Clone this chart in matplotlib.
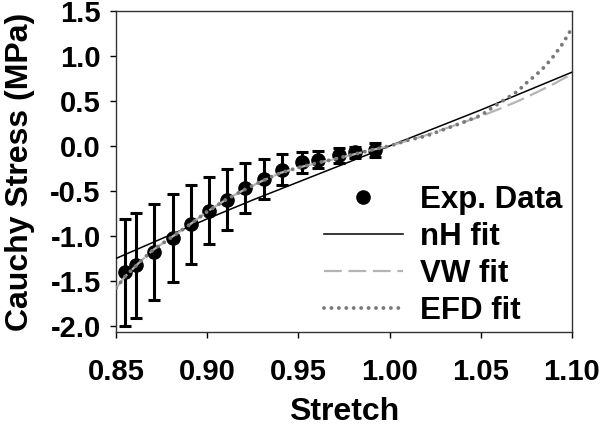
import matplotlib
matplotlib.use('Agg')
import matplotlib.pyplot as plt

plt.rcParams['font.family'] = ['Liberation Sans', 'DejaVu Sans']
plt.rcParams['font.weight'] = 'bold'

# experimental data (mean +/- sd)
stretch = [0.855, 0.861, 0.871, 0.881, 0.891, 0.901, 0.911, 0.921,
           0.931, 0.941, 0.952, 0.961, 0.972, 0.981, 0.992]
stress = [-1.405, -1.325, -1.175, -1.02, -0.87, -0.72, -0.595, -0.47,
          -0.367, -0.262, -0.18, -0.152, -0.105, -0.072, -0.045]
stress_err = [0.595, 0.585, 0.535, 0.49, 0.44, 0.37, 0.335, 0.28,
              0.218, 0.17, 0.117, 0.096, 0.085, 0.065, 0.075]

# fitted curves
nh_x = [0.85, 0.875, 0.90, 0.925, 0.95, 0.975, 1.00, 1.025, 1.05, 1.075, 1.10]
nh_y = [-1.25, -1.03, -0.81, -0.60, -0.40, -0.20, 0.0, 0.20, 0.40, 0.61, 0.82]

vw_x = [0.85, 0.855, 0.8625, 0.87, 0.88, 0.89, 0.90, 0.91, 0.92, 0.93, 0.94,
        0.95, 0.96, 0.97, 0.98, 0.99, 1.00, 1.01, 1.02, 1.03, 1.04, 1.05,
        1.06, 1.07, 1.08, 1.09, 1.10]
vw_y = [-1.58, -1.45, -1.30, -1.16, -1.02, -0.88, -0.73, -0.60, -0.49, -0.39,
        -0.30, -0.24, -0.19, -0.145, -0.095, -0.045, 0.0, 0.06, 0.12, 0.19,
        0.26, 0.33, 0.41, 0.495, 0.59, 0.69, 0.80]

efd_x = [0.85, 0.855, 0.8625, 0.87, 0.88, 0.89, 0.90, 0.91, 0.92, 0.93, 0.94,
         0.95, 0.96, 0.97, 0.98, 0.99, 1.00, 1.01, 1.02, 1.03, 1.04, 1.05,
         1.06, 1.07, 1.075, 1.08, 1.085, 1.09, 1.095, 1.10]
efd_y = [-1.58, -1.45, -1.30, -1.16, -1.02, -0.88, -0.73, -0.60, -0.49, -0.39,
         -0.30, -0.24, -0.19, -0.145, -0.095, -0.045, 0.0, 0.065, 0.11, 0.185,
         0.26, 0.34, 0.475, 0.605, 0.70, 0.785, 0.88, 1.0, 1.14, 1.31]

fig = plt.figure(figsize=(6, 4.28), dpi=100)
ax = fig.add_axes([0.1933, 0.2243, 0.76, 0.75])

ax.errorbar(stretch, stress, yerr=stress_err, fmt='none', ecolor='black',
            elinewidth=2.2, capsize=4, capthick=2.2, zorder=2)
ax.plot(stretch, stress, 'o', color='black', markersize=9.5, label='Exp. Data', zorder=3)
ax.plot(nh_x, nh_y, '-', color='black', lw=1.1, label='nH fit', zorder=4)
ax.plot(vw_x, vw_y, color='#b4b4b4', lw=1.6, dashes=(8, 3), label='VW fit', zorder=4)
ax.plot(efd_x, efd_y, color='#7a7a7a', lw=2.8, dashes=(0.01, 1.9),
        dash_capstyle='round', label='EFD fit', zorder=5)

ax.set_xlim(0.85, 1.10)
ax.set_ylim(-2.067, 1.5)
ax.set_xticks([0.85, 0.90, 0.95, 1.00, 1.05, 1.10])
ax.set_yticks([-2.0, -1.5, -1.0, -0.5, 0.0, 0.5, 1.0, 1.5])
ax.set_xticklabels(['0.85', '0.90', '0.95', '1.00', '1.05', '1.10'])
ax.set_yticklabels(['-2.0', '-1.5', '-1.0', '-0.5', '0.0', '0.5', '1.0', '1.5'])
ax.tick_params(direction='out', length=4, width=1, labelsize=21)
ax.tick_params(axis='x', pad=15)
ax.tick_params(axis='y', pad=7)
for s in ax.spines.values():
    s.set_linewidth(1.0)
    s.set_color('#333333')

ax.set_xlabel('Stretch', fontsize=23, fontweight='bold', labelpad=8)
ax.set_ylabel('Cauchy Stress (MPa)', fontsize=23, fontweight='bold')
ax.yaxis.set_label_coords(-0.178, 0.5)

ax.legend(loc='lower right', bbox_to_anchor=(1.028, -0.05), frameon=False,
          fontsize=22.5, handlelength=2.55, handletextpad=0.55, labelspacing=0.23,
          borderpad=0.2)

fig.savefig('out.png', dpi=100)
